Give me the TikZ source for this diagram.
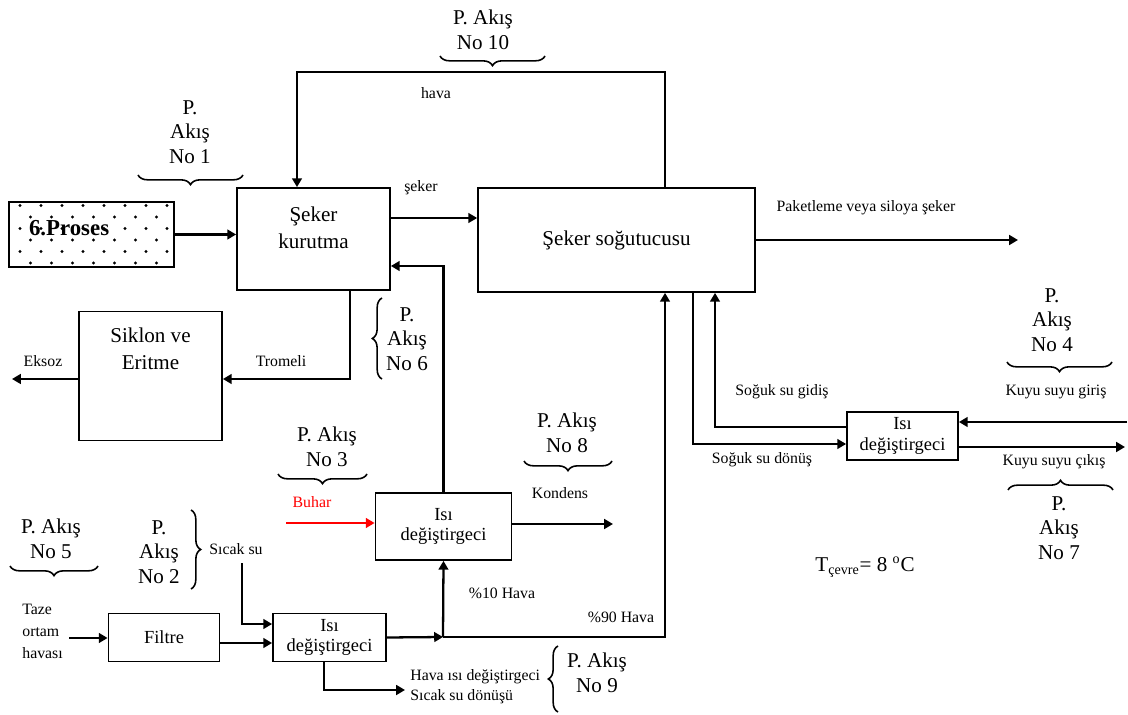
\documentclass[tikz,border=0pt]{standalone}
\usepackage{fontspec}
\setmainfont{Liberation Serif}
\usetikzlibrary{arrows.meta, positioning, decorations.pathreplacing}

\begin{document}
\begin{tikzpicture}[
  x=0.02cm, y=-0.02cm,
  box/.style={draw, line width=1pt, minimum width=2.22cm, minimum height=0.96cm,
              inner sep=1pt, align=center, font=\fontsize{10.5}{11.8}\selectfont},
  bigbox/.style={box, font=\fontsize{12}{15.5}\selectfont},
  arr/.style={-{Triangle[length=5pt,width=5.5pt]}, line width=1.3pt},
  lbl/.style={font=\fontsize{9}{12.5}\selectfont, inner sep=0pt},
  akis/.style={font=\fontsize{12}{14}\selectfont, align=center, inner sep=0pt},
  brc/.style={decorate, decoration={brace, amplitude=5.5pt}, line width=0.9pt}]
  \useasboundingbox (0,0) rectangle (1128,715);

  % dotted process box
  \begin{scope}
    \clip (11,204) rectangle (172,265);
    \foreach \r in {0,...,5}
      \foreach \c in {0,...,7}
        \fill ({20+21*\c+10.5*mod(\r,2)},{205.5+11.5*\r}) circle (0.9pt);
  \end{scope}
  \node[box, minimum width=3.3cm, minimum height=1.3cm, inner xsep=0.38cm,
        text width=2.5cm, align=left, text depth=0.26cm,
        font=\bfseries\fontsize{13}{15}\selectfont] (proses) at (91.5,234.5) {6.Proses};

  % boxes
  \node[bigbox, minimum width=3.06cm, minimum height=2.04cm, text depth=0.45cm] (kur) at (313.5,239) {Şeker\\kurutma};
  \node[bigbox, minimum width=5.54cm, minimum height=2.08cm] (sog) at (616.5,240) {Şeker soğutucusu};
  \node[bigbox, minimum width=2.86cm, minimum height=2.58cm, text depth=1.1cm] (sik) at (150.5,376) {Siklon ve\\Eritme};
  \node[box, minimum width=2.72cm, minimum height=1.34cm] (hx1) at (443.5,526.5) {Isı\\değiştirgeci};
  \node[box] (filtre) at (164,637.5) {Filtre};
  \node[box, minimum width=2.26cm] (hx2) at (329.5,637.5) {Isı\\değiştirgeci};
  \node[box] (hx3) at (902.5,436) {Isı\\değiştirgeci};

  % free ends
  \coordinate (c10) at (665,72);
  \coordinate (c10L) at (297,72);
  \coordinate (pack) at (1018,240);
  \coordinate (trom) at (350,379);
  \coordinate (eksoz) at (12,379);
  \coordinate (buhar) at (286,523);
  \coordinate (kond) at (613,524);
  \coordinate (split) at (443,637);
  \coordinate (c90) at (665,637);
  \coordinate (taze) at (69,638);
  \coordinate (sicak) at (242,563);
  \coordinate (donus) at (405,690);
  \coordinate (gidis) at (715,427);
  \coordinate (donusS) at (693,444);
  \coordinate (kuyuIn) at (1127,422);
  \coordinate (kuyuOut) at (1125,447);

  % connectors
  \draw[arr] (proses.east) -- (kur.west |- proses.east);
  \draw[arr] (sog.north -| c10) -- (c10) -- (c10L) -- (c10L |- kur.north);
  \draw[arr] ([yshift=0.42cm]kur.east) -- ([yshift=0.42cm]kur.east -| sog.west);
  \draw[arr] (sog.east) -- (pack);
  \draw[arr] (kur.south -| trom) |- (sik.east |- trom);
  \draw[arr] (sik.west |- eksoz) -- (eksoz);
  \draw[arr] (hx1.north) |- ([yshift=-0.54cm]kur.east);
  \draw[arr, red] (buhar) -- (hx1.west |- buhar);
  \draw[arr] (hx1.east |- kond) -- (kond);
  \draw[arr] (hx2.east) -- (split);
  \draw[arr] (split) -- (hx1.south);
  \draw[arr] (split) -- (c90) -- (c90 |- sog.south);
  \draw[arr] (taze) -- (filtre.west |- taze);
  \draw[arr] ([yshift=-0.11cm]filtre.east) -- ([yshift=-0.11cm]hx2.west);
  \draw[arr] (sicak) |- ([yshift=0.27cm]hx2.west);
  \draw[arr] ([xshift=-0.11cm]hx2.south) |- (donus);
  \draw[arr] (hx3.west |- gidis) -- (gidis) -- (gidis |- sog.south);
  \draw[arr] (donusS |- sog.south) -- (donusS) -- (hx3.west |- donusS);
  \draw[arr] (kuyuIn) -- (hx3.east |- kuyuIn);
  \draw[arr] (hx3.east |- kuyuOut) -- (kuyuOut);

  % stream labels
  \node[lbl] (lSeker) at (421,188) {şeker};
  \node[lbl] (lHava) at (436,93) {hava};
  \node[lbl] (lPack) at (866,208) {Paketleme veya siloya şeker};
  \node[lbl] (lTrom) at (281,361) {Tromeli};
  \node[lbl] (lEksoz) at (43,361) {Eksoz};
  \node[lbl, text=red] (lBuhar) at (312,502) {Buhar};
  \node[lbl] (lKond) at (560,493) {Kondens};
  \node[lbl] (l10) at (502,593) {\%10 Hava};
  \node[lbl] (l90) at (621,617) {\%90 Hava};
  \node[lbl] (lSicak) at (236,549) {Sıcak su};
  \node[lbl, anchor=west, align=left] (lTaze) at (22,631) {Taze\\ortam\\havası};
  \node[lbl, anchor=west, align=left, font=\fontsize{9}{11.4}\selectfont] (lDonus) at (410,687) {Hava ısı değiştirgeci\\Sıcak su dönüşü};
  \node[lbl] (lGidis) at (782,392) {Soğuk su gidiş};
  \node[lbl] (lSDonus) at (762,460) {Soğuk su dönüş};
  \node[lbl] (lKuyuIn) at (1056,392) {Kuyu suyu giriş};
  \node[lbl] (lKuyuOut) at (1054,462) {Kuyu suyu çıkış};
  \node[akis] (tcevre) at (865,567) {T\textsubscript{çevre}= 8 \textsuperscript{o}C};

  % P. Akış markers
  \node[akis] (ak10) at (483,30) {P. Akış\\No 10};
  \draw[brc] (545,56) -- (440,56);
  \node[akis] (ak1) at (190,132) {P.\\Akış\\No 1};
  \draw[brc] (243,175) -- (138,175);
  \node[akis] (ak6) at (407,339) {P.\\Akış\\No 6};
  \draw[brc] (382,379) -- (382,298);
  \node[akis] (ak5) at (51,539) {P. Akış\\No 5};
  \draw[brc] (98,566) -- (10,566);
  \node[akis] (ak2) at (159,552) {P.\\Akış\\No 2};
  \draw[brc] (191,510) -- (191,589);
  \node[akis] (ak3) at (327,447) {P. Akış\\No 3};
  \draw[brc] (367,474) -- (278,474);
  \node[akis] (ak8) at (567,433) {P. Akış\\No 8};
  \draw[brc] (612,461) -- (524,461);
  \node[akis] (ak9) at (597,673) {P. Akış\\No 9};
  \draw[brc] (558,712) -- (558,646);
  \node[akis] (ak4) at (1052,320) {P.\\Akış\\No 4};
  \draw[brc] (1112,362) -- (1007,362);
  \node[akis] (ak7) at (1059,528) {P.\\Akış\\No 7};
  \draw[brc] (1008,490) -- (1113,490);
\end{tikzpicture}
\end{document}
